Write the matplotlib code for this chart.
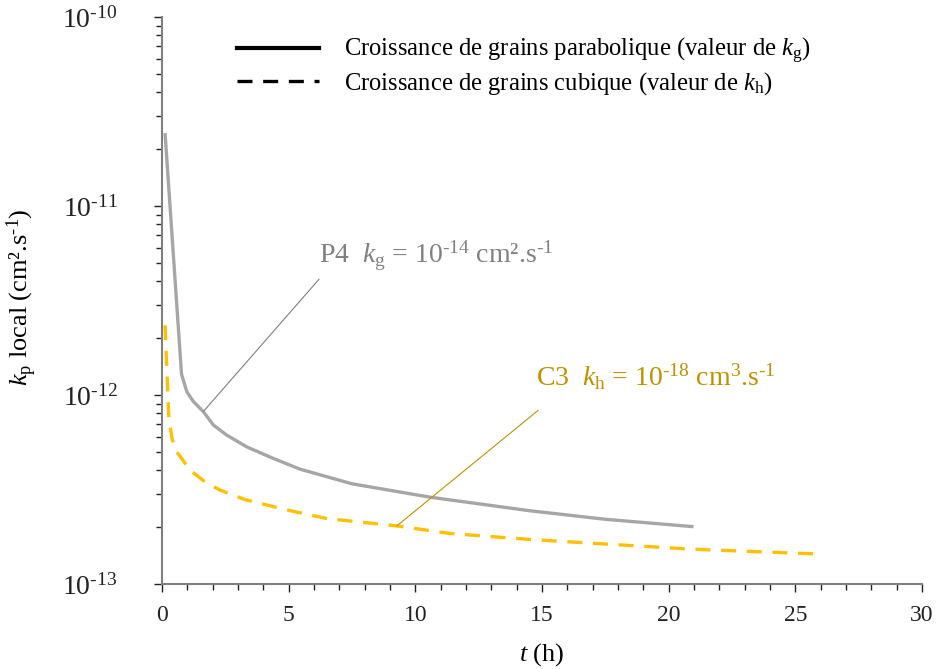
import math
import matplotlib
matplotlib.use("Agg")
import matplotlib.pyplot as plt
from matplotlib.lines import Line2D
from matplotlib.ticker import FixedLocator, LogLocator, FuncFormatter, MultipleLocator, NullFormatter

plt.rcParams['font.family'] = ['Liberation Serif', 'DejaVu Serif']
plt.rcParams['mathtext.fontset'] = 'custom'
plt.rcParams['mathtext.rm'] = 'Liberation Serif'
plt.rcParams['mathtext.it'] = 'Liberation Serif:italic'
plt.rcParams['mathtext.default'] = 'rm'

# Parabolic growth (P4, k_g)
t_parab = [0.12, 0.77, 0.98, 1.24, 1.63, 2.03, 2.55, 3.34, 4.39, 5.45, 7.5, 10.58, 14.53, 17.5, 20.98]
k_parab = [2.43e-11, 1.29e-12, 1.04e-12, 9.23e-13, 8.17e-13, 6.93e-13, 6.14e-13, 5.32e-13,
           4.62e-13, 4.05e-13, 3.39e-13, 2.88e-13, 2.44e-13, 2.20e-13, 2.01e-13]

# Cubic growth (C3, k_h)
t_cubic = [0.12, 0.27, 0.4, 0.58, 0.72, 1.1, 1.7, 2.29, 3.3, 4.85, 6.5, 9.27, 11.37, 14.53, 20.85, 25.98]
k_cubic = [2.34e-12, 7.59e-13, 5.82e-13, 5.01e-13, 4.73e-13, 4.01e-13, 3.47e-13, 3.14e-13,
           2.79e-13, 2.48e-13, 2.22e-13, 2.03e-13, 1.85e-13, 1.72e-13, 1.53e-13, 1.44e-13]

legend_labels = ["Croissance de grains parabolique (valeur de $\\mathit{k}_\\mathrm{g}$)",
                 "Croissance de grains cubique (valeur de $\\mathit{k}_\\mathrm{h}$)"]
y_ticks = [1e-13, 1e-12, 1e-11, 1e-10]
x_ticks = [0, 5, 10, 15, 20, 25, 30]

W, H = 936, 669
fig = plt.figure(figsize=(W / 100, H / 100), dpi=100)
ax = fig.add_axes([162 / W, 1 - 584 / H, (922 - 162) / W, (584 - 17) / H])

ax.plot(t_parab, k_parab, color='#A6A6A6', lw=2.4, solid_capstyle='butt', solid_joinstyle='round')
ax.plot(t_cubic, k_cubic, color='#FFC000', lw=2.4, dashes=(4.5, 3.2))

ax.set_yscale('log')
ax.set_xlim(0, 30)
ax.set_ylim(1e-13, 1e-10)
ax.xaxis.set_major_locator(FixedLocator(x_ticks))
ax.xaxis.set_minor_locator(MultipleLocator(1))
ax.yaxis.set_major_locator(FixedLocator(y_ticks))
ax.yaxis.set_minor_locator(LogLocator(base=10, subs=range(2, 10), numticks=20))
ax.yaxis.set_minor_formatter(NullFormatter())

def yfmt(v, pos):
    e = int(round(math.log10(v)))
    return "10$^{\\text{-}%d}$" % (-e)
ax.yaxis.set_major_formatter(FuncFormatter(yfmt))

for s in ['top', 'right']:
    ax.spines[s].set_visible(False)
for s in ['left', 'bottom']:
    ax.spines[s].set_color('#7F7F7F')
    ax.spines[s].set_linewidth(1.5)

ax.tick_params(axis='both', which='major', direction='out', length=6, width=1, colors='#222222')
ax.tick_params(axis='both', which='minor', direction='out', length=4.5, width=1, colors='#222222')
ax.tick_params(axis='x', which='major', pad=9, labelsize=17)
ax.tick_params(axis='y', which='major', pad=26, labelsize=20)

# axis labels
fig.text(22 / W, 1 - 297 / H, "$\\mathit{k}_\\mathrm{p}$ local (cm².s$^{\\text{-}1}$)", rotation=90,
         ha='center', va='center', fontsize=19)
fig.text(542 / W, 1 - 655 / H, "$\\mathit{t}$ (h)", ha='center', va='center', fontsize=19)

# legend
handles = [Line2D([], [], color='black', lw=3),
           Line2D([], [], color='black', lw=2.4, dashes=(4.5, 3.2))]
leg = ax.legend(handles, legend_labels, loc='upper left', bbox_to_anchor=(75 / 760, 1 - 19 / 567),
                frameon=False, fontsize=17.7, handlelength=3.35, handletextpad=1.0, labelspacing=0.15,
                borderaxespad=0, borderpad=0)

# annotations
ax.annotate("", xy=(t_parab[4], k_parab[4]), xytext=(6.2, 4.1e-12),
            arrowprops=dict(arrowstyle='-', color='#7F7F7F', lw=0.8, shrinkA=0, shrinkB=0))
ax.text(6.2, 5.0e-12, "P4  $\\mathit{k}_\\mathrm{g}$ = 10$^{\\text{-}14}$ cm².s$^{\\text{-}1}$", color='#808080',
        fontsize=20, ha='left', va='baseline')
ax.annotate("", xy=(9.27, 2.03e-13), xytext=(14.85, 8.3e-13),
            arrowprops=dict(arrowstyle='-', color='#BF9000', lw=0.8, shrinkA=0, shrinkB=0))
ax.text(14.75, 1.12e-12, "C3  $\\mathit{k}_\\mathrm{h}$ = 10$^{\\text{-}18}$ cm$^{3}$.s$^{\\text{-}1}$", color='#BF9000',
        fontsize=20, ha='left', va='baseline')

fig.savefig("out.png", dpi=100)
